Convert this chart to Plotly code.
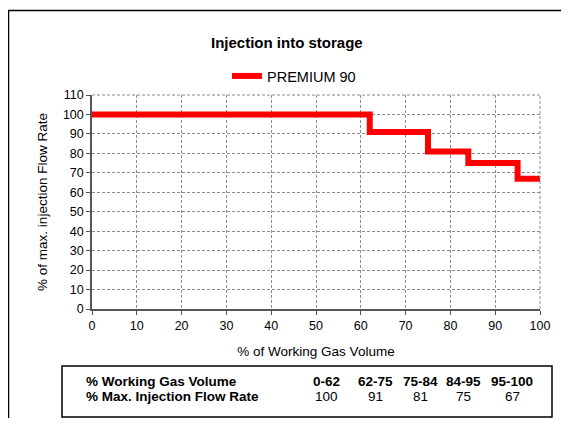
import plotly.graph_objects as go

# Data
step_x = [0, 62, 75, 84, 95, 100]
step_y = [100, 91, 81, 75, 67, 67]
series_name = "PREMIUM 90"
table_ranges = ["0-62", "62-75", "75-84", "84-95", "95-100"]
table_rates = [100, 91, 81, 75, 67]
table_row_labels = ["% Working Gas Volume", "% Max. Injection Flow Rate"]

OFF = 8  # page body margin offset
W, H = 569 - 2 * OFF, 426 - 2 * OFF
L, R, T, B = 92, 540, 95, 309  # in reference pixel coords
pw, ph = R - L, B - T

def px(x):
    return (x - L) / pw

def py(y):
    return (B - y) / ph

FONT = "Liberation Sans, Arial, sans-serif"

fig = go.Figure()
fig.add_trace(go.Scatter(
    x=step_x, y=step_y, mode="lines", line=dict(shape="hv", color="#FF0000", width=6),
    name=series_name, showlegend=True,
))

axis_common = dict(
    showgrid=True, gridcolor="#8c8c8c", griddash="3px,2px", gridwidth=1,
    showline=True, linecolor="#555555", linewidth=1.5,
    ticks="outside", ticklen=4, tickcolor="#555555",
    tickfont=dict(family=FONT, size=12.5, color="#000"),
    zeroline=False, mirror=False,
)

fig.update_xaxes(range=[0, 100], dtick=10, tick0=0,
                 title=dict(text="% of Working Gas Volume", font=dict(family=FONT, size=13.5, color="#000"), standoff=15),
                 **axis_common)
fig.update_yaxes(range=[0, 110], dtick=10, tick0=0,
                 title=dict(text="% of max. injection Flow Rate", font=dict(family=FONT, size=13.5, color="#000"), standoff=12),
                 **axis_common)

shapes = []
# outer frame (extends beyond right/bottom of view)
shapes.append(dict(type="rect", xref="paper", yref="paper", x0=px(8.5), x1=px(600), y0=py(460), y1=py(10.5),
                   line=dict(color="#000", width=1.5), fillcolor="rgba(0,0,0,0)", layer="below"))
# top and right dashed plot borders
shapes.append(dict(type="line", xref="paper", yref="paper", x0=0, x1=1, y0=1, y1=1,
                   line=dict(color="#8c8c8c", width=1, dash="3px,2px")))
shapes.append(dict(type="line", xref="paper", yref="paper", x0=1, x1=1, y0=0, y1=1,
                   line=dict(color="#8c8c8c", width=1, dash="3px,2px")))
# table box
shapes.append(dict(type="rect", xref="paper", yref="paper", x0=px(62), x1=px(552), y0=py(417), y1=py(366),
                   line=dict(color="#000", width=1.5), fillcolor="rgba(0,0,0,0)"))

annotations = []
annotations.append(dict(text="<b>Injection into storage</b>", xref="paper", yref="paper",
                        x=px(287), y=py(43), showarrow=False, font=dict(family=FONT, size=15, color="#000"),
                        xanchor="center", yanchor="middle"))
row_y = [381, 396]
annotations.append(dict(text="<b>" + table_row_labels[0] + "</b>", xref="paper", yref="paper",
                        x=px(84), y=py(row_y[0]), showarrow=False, xanchor="left", yanchor="middle",
                        font=dict(family=FONT, size=13.5, color="#000")))
annotations.append(dict(text="<b>" + table_row_labels[1] + "</b>", xref="paper", yref="paper",
                        x=px(84), y=py(row_y[1]), showarrow=False, xanchor="left", yanchor="middle",
                        font=dict(family=FONT, size=13.5, color="#000")))
col_x = [326, 375, 420, 463, 512]
for cx, rng, rate in zip(col_x, table_ranges, table_rates):
    annotations.append(dict(text="<b>" + rng + "</b>", xref="paper", yref="paper",
                            x=px(cx), y=py(row_y[0]), showarrow=False, xanchor="center", yanchor="middle",
                            font=dict(family=FONT, size=13.5, color="#000")))
    annotations.append(dict(text=str(rate), xref="paper", yref="paper",
                            x=px(cx), y=py(row_y[1]), showarrow=False, xanchor="center", yanchor="middle",
                            font=dict(family=FONT, size=13.5, color="#000")))

fig.update_layout(
    width=W, height=H,
    margin=dict(l=L - OFF, r=W - (R - OFF), t=T - OFF, b=H - (B - OFF)),
    paper_bgcolor="#ffffff", plot_bgcolor="#ffffff",
    shapes=shapes, annotations=annotations,
    showlegend=True,
    legend=dict(orientation="h", x=px(227), y=py(76), xanchor="left", yanchor="middle",
                font=dict(family=FONT, size=14.5, color="#000"), bgcolor="rgba(0,0,0,0)",
                itemwidth=30),
)

fig.write_html("out.html")
